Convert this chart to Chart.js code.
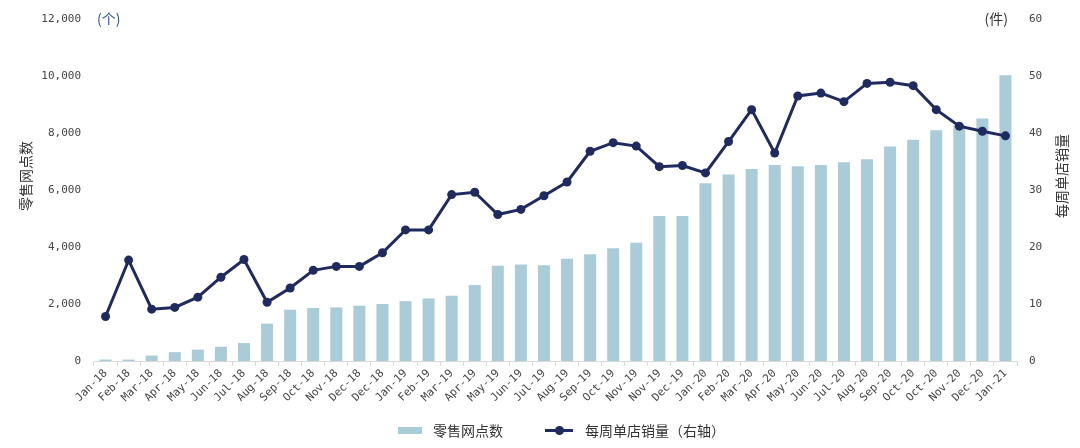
<!DOCTYPE html>
<html>
<head>
<meta charset="utf-8">
<script src="https://cdn.jsdelivr.net/npm/chart.js@4/dist/chart.umd.min.js"></script>
<style>
  html, body { margin: 0; padding: 0; background: #ffffff; }
  #wrap { width: 1080px; height: 448px; position: relative; }
  #legend { position: absolute; left: 398px; top: 420px; height: 20px; display: flex; align-items: center;
            font-family: 'Noto Sans CJK SC', 'Noto Sans', sans-serif; font-size: 14px; color: #333; white-space: nowrap; }
  .sw-bar { display: inline-block; width: 24px; height: 7px; background: #A9CCD8; margin-right: 11px; }
  .sw-line { display: inline-block; position: relative; width: 28px; height: 3px; background: #1F2B5E; margin-left: 42px; margin-right: 12px; }
  .sw-line::after { content: ""; position: absolute; left: 10px; top: -3px; width: 9px; height: 9px; border-radius: 50%; background: #1F2B5E; }
</style>
</head>
<body>
<div id="wrap">
  <canvas id="c" width="1080" height="448"></canvas>
  <div id="legend"></div>
</div>
<script>
const categories = ["Jan-18","Feb-18","Mar-18","Apr-18","May-18","Jun-18","Jul-18","Aug-18","Sep-18","Oct-18","Nov-18","Dec-18","Dec-18","Jan-19","Feb-19","Mar-19","Apr-19","May-19","Jun-19","Jul-19","Aug-19","Sep-19","Oct-19","Nov-19","Nov-19","Dec-19","Jan-20","Feb-20","Mar-20","Apr-20","May-20","Jun-20","Jul-20","Aug-20","Sep-20","Oct-20","Oct-20","Nov-20","Dec-20","Jan-21"];
const outlets = [50,50,190,310,400,500,630,1310,1800,1860,1880,1940,2000,2100,2195,2290,2670,3340,3390,3360,3585,3750,3960,4145,5090,5090,6235,6540,6740,6880,6830,6880,6970,7075,7530,7765,8100,8270,8510,10030];
const weeklySales = [7.8,17.7,9.1,9.4,11.2,14.7,17.8,10.3,12.8,15.9,16.6,16.6,19.0,23.0,23.0,29.2,29.6,25.7,26.6,29.0,31.4,36.8,38.3,37.7,34.1,34.3,33.0,38.5,44.1,36.5,46.5,47.0,45.5,48.7,48.9,48.3,44.1,41.2,40.3,39.5];
const leftTicks = [0,2000,4000,6000,8000,10000,12000];
const rightTicks = [0,10,20,30,40,50,60];
const seriesNames = ["零售网点数","每周单店销量（右轴）"];
const axisTitles = ["零售网点数","每周单店销量"];
const unitLabels = ["(个)","(件)"];

const barColor = "#A9CCD8";
const lineColor = "#1F2B5E";
const cjk = "'Noto Sans CJK SC', 'Noto Sans', sans-serif";
const mono = "'DejaVu Sans Mono', 'Liberation Mono', monospace";

// HTML legend built from the series names
const lg = document.getElementById('legend');
lg.innerHTML = '<span class="sw-bar"></span><span></span><span class="sw-line"></span><span></span>';
lg.children[1].textContent = seriesNames[0];
lg.children[3].textContent = seriesNames[1];

const textPlugin = {
  id: 'axisText',
  afterDraw(chart) {
    const ctx = chart.ctx;
    const ca = chart.chartArea;
    const yTop = chart.scales.y.getPixelForValue(leftTicks[leftTicks.length - 1]);
    const midY = (ca.top + ca.bottom) / 2 - 14;
    ctx.save();
    ctx.textBaseline = "middle";
    // unit labels
    ctx.font = "14px " + cjk;
    ctx.textAlign = "left";
    ctx.fillStyle = "#2C5496";
    ctx.fillText(unitLabels[0], ca.left + 3, yTop);
    ctx.textAlign = "right";
    ctx.fillStyle = "#333333";
    ctx.fillText(unitLabels[1], ca.right - 9, yTop);
    // axis titles (both read bottom-to-top)
    ctx.fillStyle = "#333333";
    ctx.textAlign = "center";
    ctx.font = "14px " + cjk;
    ctx.translate(26, midY);
    ctx.rotate(-Math.PI / 2);
    ctx.fillText(axisTitles[0], 0, 0);
    ctx.restore();
    ctx.save();
    ctx.textBaseline = "middle";
    ctx.textAlign = "center";
    ctx.fillStyle = "#333333";
    ctx.font = "14px " + cjk;
    ctx.translate(1062, midY);
    ctx.rotate(-Math.PI / 2);
    ctx.fillText(axisTitles[1], 0, 0);
    ctx.restore();
  }
};

new Chart(document.getElementById('c'), {
  data: {
    labels: categories,
    datasets: [
      {
        type: 'line',
        label: seriesNames[1],
        data: weeklySales,
        yAxisID: 'y1',
        borderColor: lineColor,
        backgroundColor: lineColor,
        borderWidth: 3,
        pointRadius: 4.5,
        pointHoverRadius: 4.5,
        pointBackgroundColor: lineColor,
        pointBorderWidth: 0,
        tension: 0,
        order: 0
      },
      {
        type: 'bar',
        label: seriesNames[0],
        data: outlets,
        yAxisID: 'y',
        backgroundColor: barColor,
        borderWidth: 0,
        barPercentage: 0.52,
        categoryPercentage: 1.0,
        order: 1
      }
    ]
  },
  plugins: [textPlugin],
  options: {
    responsive: false,
    animation: false,
    layout: { padding: { top: 19, bottom: 33, left: 0, right: 0 } },
    plugins: {
      tooltip: { enabled: false },
      legend: { display: false }
    },
    scales: {
      x: {
        offset: true,
        grid: { display: true, drawOnChartArea: false, tickLength: 5, color: "#D9D9D9", offset: true },
        border: { display: true, color: "#D9D9D9" },
        ticks: {
          autoSkip: false,
          minRotation: 45,
          maxRotation: 45,
          padding: 1,
          font: { family: mono, size: 11 },
          color: "#444444"
        },
        afterFit(scale) { scale.height = 54; }
      },
      y: {
        position: 'left',
        min: 0, max: 12000,
        afterBuildTicks(scale) { scale.ticks = leftTicks.map(v => ({ value: v })); },
        grid: { display: false },
        border: { display: false },
        ticks: {
          padding: 5,
          font: { family: mono, size: 11 },
          color: "#444444",
          callback: v => v.toLocaleString('en-US')
        },
        afterFit(scale) { scale.width = 94; }
      },
      y1: {
        position: 'right',
        min: 0, max: 60,
        afterBuildTicks(scale) { scale.ticks = rightTicks.map(v => ({ value: v })); },
        grid: { display: false },
        border: { display: false },
        ticks: {
          padding: 4,
          font: { family: mono, size: 11 },
          color: "#444444"
        },
        afterFit(scale) { scale.width = 63; }
      }
    }
  }
});
</script>
</body>
</html>
